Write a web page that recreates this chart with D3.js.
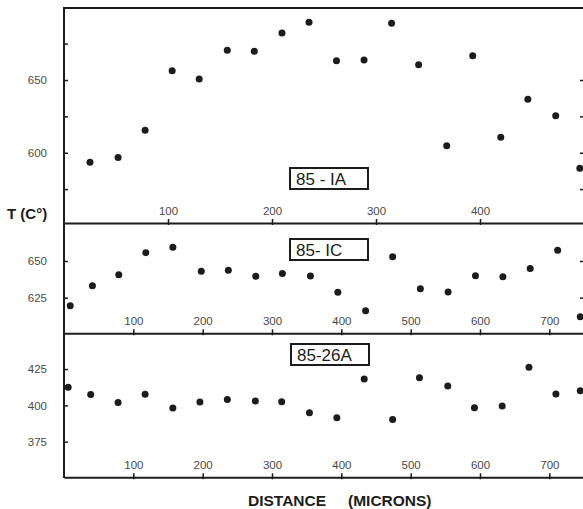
<!DOCTYPE html>
<html>
<head>
<meta charset="utf-8">
<script src="https://cdn.jsdelivr.net/npm/d3@7/dist/d3.min.js"></script>
<style>
  html, body { margin: 0; padding: 0; background: #fff; }
  svg { display: block; }
  text { font-family: "Liberation Sans", Arial, sans-serif; }
</style>
</head>
<body>
<svg id="chart" width="583" height="509"></svg>
<script>
// ---- Data ----
const panelLabels = ["85 - IA", "85- IC", "85-26A"];

const xTop = [25, 52, 78, 104, 130, 157, 183, 209.6, 235.6, 262, 288.5, 315, 341, 368, 393, 420, 446, 472.8, 496];
const yTop = [593.4, 596.8, 615.4, 656.4, 650.7, 670.4, 669.7, 682.3, 689.7, 663.3, 663.8, 689, 660.5, 604.8, 666.7, 610.6, 636.7, 625.5, 589.3];

const xMid = [9, 41, 79, 118, 157, 198, 237, 276.6, 315, 355.4, 395, 435, 474, 514, 554, 593.5, 633, 672.4, 712, 744.6];
const yMid = [619.5, 633.2, 640.7, 655.7, 659.3, 643, 643.7, 639.6, 641.4, 639.8, 628.7, 616.1, 652.9, 631.1, 628.9, 640, 639.3, 644.8, 657.3, 612];

const xBot = [6, 38.5, 78, 117, 157, 196, 235.6, 276, 314, 354, 393.5, 433, 474, 512.7, 553.5, 592, 632, 670.6, 709.5, 744.6];
const yBot = [412.4, 407.4, 401.9, 407.6, 398.2, 402.3, 404.1, 403, 402.5, 395, 391.5, 418.2, 390.2, 419, 413.3, 398.4, 399.6, 426.2, 407.8, 410.1];

const xTicksTop = [100, 200, 300, 400];
const xTicksWide = [100, 200, 300, 400, 500, 600, 700];
const yTicksTopMajor = [650, 600];
const yTicksTopMinor = [675, 625, 575];
const yTicksTopRight = [650, 625, 600, 575];
const yTicksMid = [650, 625];
const yTicksBot = [425, 400, 375];

const yLabel = "T (C°)";
const xLabelA = "DISTANCE";
const xLabelB = "(MICRONS)";

// ---- Layout ----
const svg = d3.select("#chart");
const left = 64, right = 584;
const ink = "#1c1c1c";
const tickInk = "#4a4a4a";

const panels = [
  { xs: xTop, ys: yTop, xDomain: [0, 500], yDomain: [551.7, 699.5], top: 8, bottom: 223,
    xTicks: xTicksTop, yMajor: yTicksTopMajor, yMinor: yTicksTopMinor, yRight: yTicksTopRight,
    label: panelLabels[0], box: [290, 168, 78, 21] },
  { xs: xMid, ys: yMid, xDomain: [0, 750], yDomain: [600.7, 675.9], top: 223, bottom: 333.3,
    xTicks: xTicksWide, yMajor: yTicksMid, yMinor: [], yRight: yTicksMid,
    label: panelLabels[1], box: [290, 239, 78, 21] },
  { xs: xBot, ys: yBot, xDomain: [0, 750], yDomain: [350.5, 449.6], top: 333.3, bottom: 477.3,
    xTicks: xTicksWide, yMajor: yTicksBot, yMinor: [], yRight: [],
    label: panelLabels[2], box: [291, 344, 78, 21] }
];

panels.forEach(p => {
  const x = d3.scaleLinear().domain(p.xDomain).range([left, right]);
  const y = d3.scaleLinear().domain(p.yDomain).range([p.bottom, p.top]);
  const g = svg.append("g");

  // bottom x-axis line with inward ticks and labels above
  const xAxis = d3.axisTop(x).tickValues(p.xTicks).tickSize(4).tickSizeOuter(0).tickPadding(5);
  const gx = g.append("g").attr("transform", `translate(0,${p.bottom})`).call(xAxis);
  gx.select(".domain").attr("stroke", ink).attr("stroke-width", 2);
  gx.selectAll(".tick line").attr("stroke", ink).attr("stroke-width", 1.5).attr("y2", -4).attr("y1", 2);
  gx.selectAll(".tick text").attr("fill", tickInk).attr("font-size", 11.5).attr("dy", "0.1em");

  // left y-axis ticks (inward)
  const yAxis = d3.axisRight(y).tickValues(p.yMajor).tickSize(4).tickSizeOuter(0).tickFormat(d3.format("d"));
  const gy = g.append("g").attr("transform", `translate(${left},0)`).call(yAxis);
  gy.select(".domain").remove();
  gy.selectAll(".tick line").attr("stroke", ink).attr("stroke-width", 1.5);
  gy.selectAll(".tick text").attr("x", -17).attr("text-anchor", "end").attr("fill", tickInk).attr("font-size", 11.5);

  if (p.yMinor.length) {
    const yMinAxis = d3.axisRight(y).tickValues(p.yMinor).tickSize(4).tickFormat("");
    const gm = g.append("g").attr("transform", `translate(${left},0)`).call(yMinAxis);
    gm.select(".domain").remove();
    gm.selectAll(".tick line").attr("stroke", ink).attr("stroke-width", 1.5);
  }
  if (p.yRight.length) {
    const yRAxis = d3.axisLeft(y).tickValues(p.yRight).tickSize(4).tickFormat("");
    const gr = g.append("g").attr("transform", `translate(${right},0)`).call(yRAxis);
    gr.select(".domain").remove();
    gr.selectAll(".tick line").attr("stroke", ink).attr("stroke-width", 1.5);
  }

  // points
  g.selectAll("circle").data(p.xs.map((v, i) => [v, p.ys[i]])).join("circle")
    .attr("cx", d => x(d[0])).attr("cy", d => y(d[1])).attr("r", 3.5).attr("fill", ink);

  // label box
  const [bx, by, bw, bh] = p.box;
  g.append("rect").attr("x", bx).attr("y", by).attr("width", bw).attr("height", bh)
    .attr("fill", "#fff").attr("stroke", ink).attr("stroke-width", 2);
  g.append("text").attr("x", bx + 6).attr("y", by + bh / 2).attr("dy", "0.36em")
    .attr("font-size", 17).attr("fill", ink).text(p.label);
});

// frame: top line and left line
svg.append("line").attr("x1", left).attr("x2", right).attr("y1", 8).attr("y2", 8)
  .attr("stroke", ink).attr("stroke-width", 2);
svg.append("line").attr("x1", left).attr("x2", left).attr("y1", 7).attr("y2", 478)
  .attr("stroke", ink).attr("stroke-width", 2);

// axis titles
svg.append("text").attr("x", 7).attr("y", 214).attr("dy", "0.36em")
  .attr("font-size", 15).attr("font-weight", "bold").attr("fill", ink).text(yLabel);
svg.append("text").attr("x", 248).attr("y", 500).attr("dy", "0.36em")
  .attr("font-size", 15.5).attr("font-weight", "bold").attr("fill", ink).text(xLabelA);
svg.append("text").attr("x", 348).attr("y", 500).attr("dy", "0.36em")
  .attr("font-size", 15.5).attr("font-weight", "bold").attr("fill", ink).text(xLabelB);
</script>
</body>
</html>
